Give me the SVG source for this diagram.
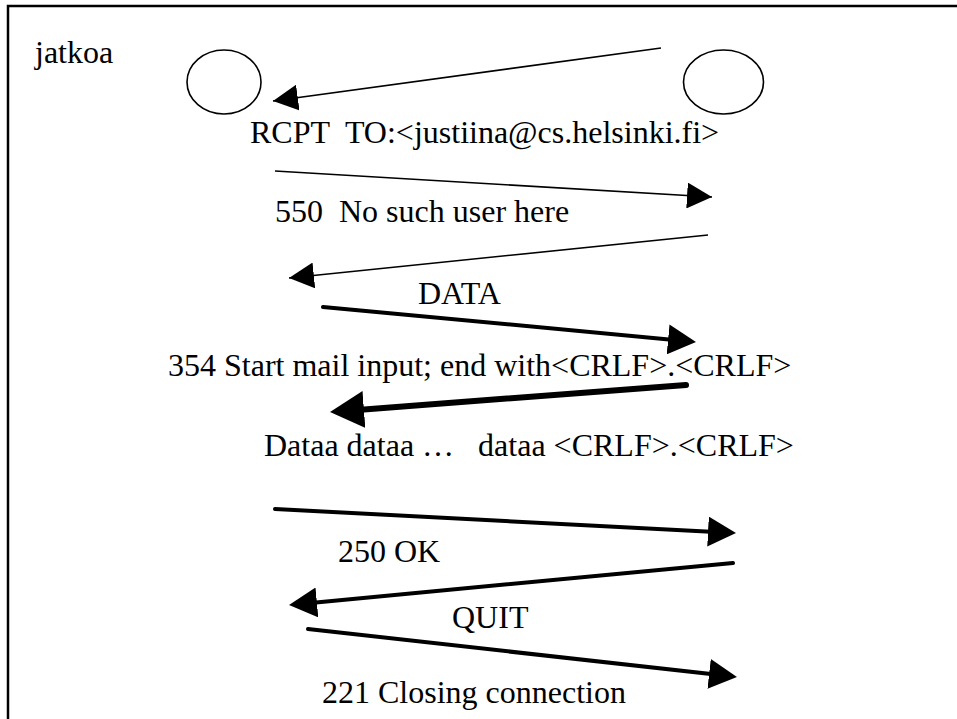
<svg xmlns="http://www.w3.org/2000/svg" width="957" height="719" viewBox="0 0 957 719">
  <style>
    .lbl { font-family: "Liberation Serif", "Times New Roman", serif; font-size: 32px; fill: #000; white-space: pre; }
    .node { fill: none; stroke: #000; stroke-width: 1.6; }
    .thin { fill: none; stroke: #000; stroke-width: 1.6; }
    .mid { fill: none; stroke: #000; stroke-width: 4; stroke-linecap: round; }
    .bold { fill: none; stroke: #000; stroke-width: 6; stroke-linecap: round; }
  </style>
  <defs>
    <marker id="head" viewBox="0 0 25 26" refX="25" refY="13" markerWidth="25" markerHeight="26" markerUnits="userSpaceOnUse" orient="auto">
      <path d="M0,0 L25,13 L0,26 Z" fill="#000"/>
    </marker>
    <marker id="headMid" viewBox="0 0 28 30" refX="22" refY="15" markerWidth="28" markerHeight="30" markerUnits="userSpaceOnUse" orient="auto">
      <path d="M0,0 L28,15 L0,30 Z" fill="#000"/>
    </marker>
    <marker id="headBold" viewBox="0 0 34 37" refX="26" refY="18.5" markerWidth="34" markerHeight="37" markerUnits="userSpaceOnUse" orient="auto">
      <path d="M0,0 L34,18.5 L0,37 Z" fill="#000"/>
    </marker>
  </defs>

  <!-- page frame -->
  <rect x="8" y="6" width="960" height="730" fill="#fff" stroke="#000" stroke-width="2.5"/>

  <g id="title">
    <text class="lbl" x="35" y="63">jatkoa</text>
  </g>

  <g id="client">
    <ellipse class="node" cx="224" cy="82" rx="37" ry="32"/>
  </g>
  <g id="server">
    <ellipse class="node" cx="723.5" cy="82" rx="40" ry="32"/>
  </g>

  <g id="connectors">
    <line class="thin" x1="661" y1="48" x2="273" y2="101" marker-end="url(#head)"/>
    <line class="thin" x1="275" y1="171" x2="712" y2="197" marker-end="url(#head)"/>
    <line class="thin" x1="708" y1="235" x2="289" y2="278" marker-end="url(#head)"/>
    <line class="mid" x1="323" y1="307" x2="690" y2="341.4" marker-end="url(#headMid)"/>
    <line class="bold" x1="686" y1="385" x2="338" y2="411.4" marker-end="url(#headBold)"/>
    <line class="mid" x1="275" y1="509" x2="730" y2="532.7" marker-end="url(#headMid)"/>
    <line class="mid" x1="733" y1="563" x2="295" y2="604.4" marker-end="url(#headMid)"/>
    <line class="mid" x1="308" y1="629" x2="731" y2="676.3" marker-end="url(#headMid)"/>
  </g>

  <g id="labels">
    <text class="lbl" x="250" y="143">RCPT  TO:&lt;justiina@cs.helsinki.fi&gt;</text>
    <text class="lbl" x="275" y="222">550  No such user here</text>
    <text class="lbl" x="418" y="304">DATA</text>
    <text class="lbl" x="168" y="376">354 Start mail input; end with&lt;CRLF&gt;.&lt;CRLF&gt;</text>
    <text class="lbl" x="264" y="456">Dataa dataa …   dataa &lt;CRLF&gt;.&lt;CRLF&gt;</text>
    <text class="lbl" x="338" y="562">250 OK</text>
    <text class="lbl" x="452" y="628">QUIT</text>
    <text class="lbl" x="322" y="703">221 Closing connection</text>
  </g>
</svg>
